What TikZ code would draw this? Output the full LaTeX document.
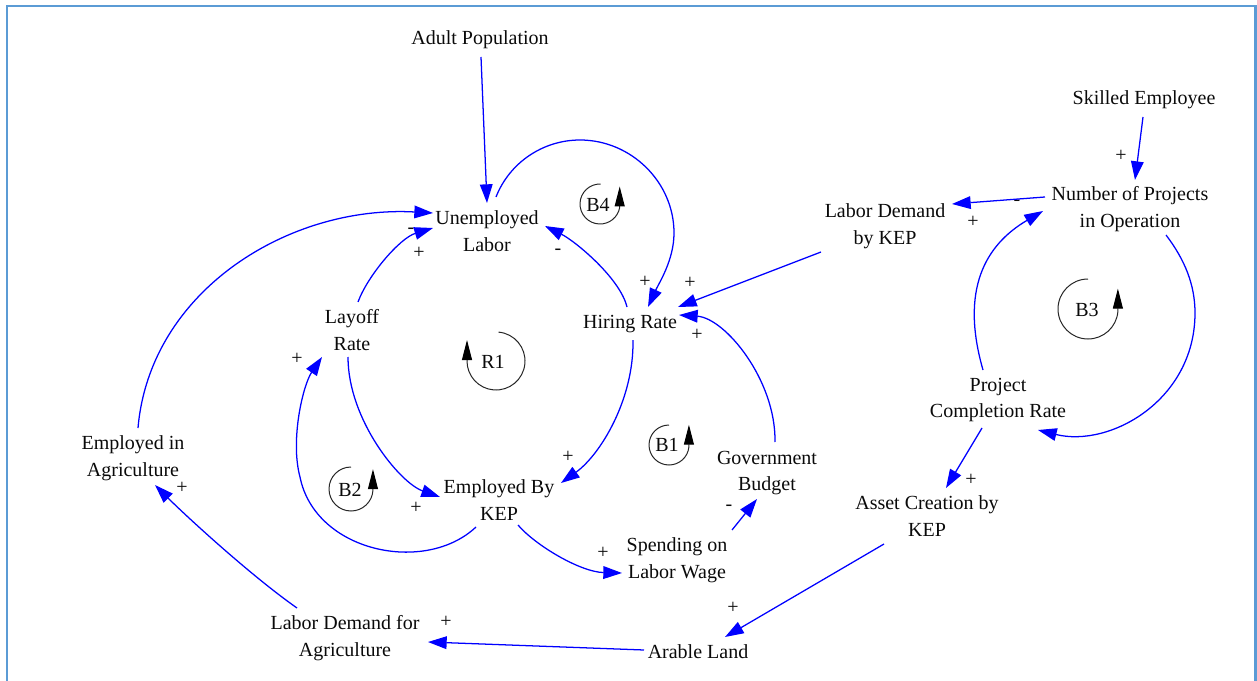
\documentclass[tikz,border=0pt]{standalone}
\usepackage{fontspec}
\setmainfont{Liberation Serif}
\usetikzlibrary{arrows.meta,calc}
\definecolor{frameblue}{RGB}{91,155,213}
\definecolor{linkblue}{RGB}{0,0,255}
\definecolor{txt}{RGB}{10,10,10}
\begin{document}
\begin{tikzpicture}[x=0.75pt,y=-0.75pt,
  var/.style={font=\fontsize{15}{20}\selectfont, text=txt, align=center, inner sep=0pt},
  sgn/.style={font=\fontsize{15}{20}\selectfont, text=txt, inner sep=0pt},
  looplbl/.style={font=\fontsize{15}{20}\selectfont, text=txt, inner sep=0pt},
  link/.style={draw=linkblue, line width=0.95pt, -{Triangle[length=14pt,width=9.5pt]}},
  loopc/.style={draw=black!85, line width=0.75pt, -{Triangle[length=15pt,width=7.5pt,color=black]}}]

\useasboundingbox (0,0) rectangle (1257,681);
\draw[frameblue, line width=1.6pt] (7,681) -- (7,6) -- (1255.5,6) -- (1255.5,681);

% variables
\node[var] (ap)   at (480,40)    {Adult Population};
\node[var] (ul)   at (487,231)   {Unemployed\\Labor};
\node[var] (hr)   at (630,324)   {Hiring Rate};
\node[var] (lr)   at (352,330)   {Layoff\\Rate};
\node[var] (ekep) at (499,500)   {Employed By\\KEP};
\node[var] (slw)  at (677,560)   {Spending on\\Labor Wage};
\node[var] (gb)   at (767,473)   {Government\\Budget};
\node[var] (ea)   at (133,458)   {Employed in\\Agriculture};
\node[var] (lda)  at (345,638)   {Labor Demand for\\Agriculture};
\node[var] (al)   at (698,652)   {Arable Land};
\node[var] (acb)  at (927,516)   {Asset Creation by\\KEP};
\node[var] (pcr)  at (998,400)   {Project\\Completion Rate};
\node[var] (nop)  at (1130,209)  {Number of Projects\\in Operation};
\node[var] (ldk)  at (885,226)   {Labor Demand\\by KEP};
\node[var] (se)   at (1144,100)  {Skilled Employee};

% polarity signs
\node[sgn] (s1)  at (411,231) {-};
\node[sgn] (s2)  at (419,253) {+};
\node[sgn] (s3)  at (558,252) {-};
\node[sgn] (s4)  at (645,282) {+};
\node[sgn] (s5)  at (690,283) {+};
\node[sgn] (s6)  at (697,335) {+};
\node[sgn] (s7)  at (297,359) {+};
\node[sgn] (s8)  at (416,508) {+};
\node[sgn] (s9)  at (568,457) {+};
\node[sgn] (s10) at (603,553) {+};
\node[sgn] (s11) at (729,508) {-};
\node[sgn] (s12) at (733,608) {+};
\node[sgn] (s13) at (971,480) {+};
\node[sgn] (s14) at (446,622) {+};
\node[sgn] (s15) at (182,488) {+};
\node[sgn] (s16) at (1121,156) {+};
\node[sgn] (s17) at (1017,203) {-};
\node[sgn] (s18) at (973,222) {+};

% connectors
\draw[link] ($(ap)+(1,17)$) -- ($(ul)+(0,-28)$);
\draw[link] ($(ul)+(9,-34)$) .. controls (509.5,162.6) and (543,140) .. (580,140)
   .. controls (631,140) and (674,182) .. (674,233)
   .. controls (674,260) and (659,283) .. ($(hr)+(18,-17)$);
\draw[link] ($(hr)+(-3,-17)$) .. controls (620,278) and (575,241) .. ($(ul)+(58,-5)$);
\draw[link] ($(ldk)+(-64,26)$) -- ($(hr)+(48,-17)$);
\draw[link] ($(gb)+(8,-31)$) .. controls (776,380) and (725,318) .. ($(hr)+(49,-9)$);
\draw[link] ($(hr)+(3,16)$) .. controls (634,400) and (600,455) .. ($(ekep)+(62,-17)$);
\draw[link] ($(lr)+(6,-28)$) .. controls (368,275) and (400,238) .. ($(ul)+(-54,-3)$);
\draw[link] ($(lr)+(-4,27)$) .. controls (348,420) and (400,483) .. ($(ekep)+(-59,-3)$);
\draw[link] ($(ekep)+(-23,27)$) .. controls (425,575) and (315,552) .. (300,477)
   .. controls (290,440) and (303,385) .. ($(lr)+(-30,27)$);
\draw[link] ($(ekep)+(19,25)$) .. controls (535,545) and (580,572) .. ($(slw)+(-55,13)$);
\draw[link] ($(slw)+(55,-30)$) -- ($(gb)+(-10,26)$);
\draw[link] ($(ea)+(5,-30)$) .. controls (150,290) and (290,205) .. ($(ul)+(-54,-18)$);
\draw[link] ($(lda)+(-48,-30)$) .. controls (250,575) and (185,515) .. ($(ea)+(22,27)$);
\draw[link] ($(al)+(-54,-2)$) -- ($(lda)+(83,4)$);
\draw[link] ($(acb)+(-43,28)$) -- ($(al)+(27,-15)$);
\draw[link] ($(pcr)+(-16,28)$) -- ($(acb)+(19,-28)$);
\draw[link] ($(nop)+(-85,-12)$) -- ($(ldk)+(67,-22)$);
\draw[link] ($(se)+(-1,17)$) -- ($(nop)+(5,-29)$);
\draw[link] ($(nop)+(36,26)$) .. controls (1185,260) and (1195,285) .. (1195,313)
   .. controls (1195,400) and (1110,448) .. ($(pcr)+(40,30)$);
\draw[link] ($(pcr)+(-15,-30)$) .. controls (960,290) and (985,245) .. ($(nop)+(-87,2)$);

% loop markers
\node[looplbl] (r1) at (493,362) {R1};
\draw[loopc] (496,361) ++(-85:29) arc[start angle=-85,end angle=180,radius=29] -- ++(0,-21);
\node[looplbl] (b4) at (598,205) {B4};
\draw[loopc] (600,204) ++(-88:20) arc[start angle=-88,end angle=-350,radius=20] -- ++(0,-21);
\node[looplbl] (b3) at (1087,310) {B3};
\draw[loopc] (1088,309) ++(-90:30) arc[start angle=-90,end angle=-355,radius=30] -- ++(0,-23);
\node[looplbl] (b1) at (667,445) {B1};
\draw[loopc] (669,445) ++(-90:20) arc[start angle=-90,end angle=-355,radius=20] -- ++(0,-22);
\node[looplbl] (b2) at (350,490) {B2};
\draw[loopc] (351,489) ++(-90:22) arc[start angle=-90,end angle=-357,radius=22] -- ++(0,-21);
\end{tikzpicture}
\end{document}
